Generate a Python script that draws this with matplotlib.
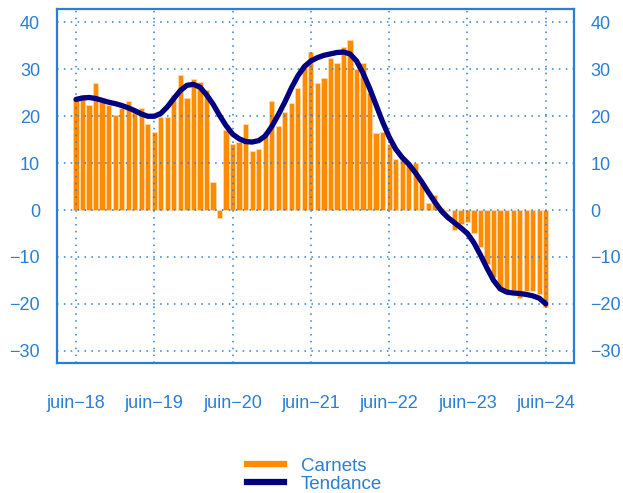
import numpy as np
import matplotlib.pyplot as plt
from matplotlib.lines import Line2D

plt.rcParams['font.family'] = ['Liberation Sans', 'DejaVu Sans']

# monthly values, juin-18 .. juin-24
carnets = [23.4, 24.5, 22.3, 27.0, 23.0, 22.3, 20.2, 21.8, 23.2, 21.4, 21.8, 18.3,
           16.6, 19.9, 19.9, 24.5, 28.9, 24.0, 27.9, 27.3, 25.5, 5.9, -1.8, 17.0,
           14.0, 14.5, 18.3, 12.6, 13.0, 16.6, 23.3, 18.0, 21.0, 22.8, 26.0, 31.0,
           33.8, 27.0, 28.1, 32.4, 31.4, 34.8, 36.2, 30.1, 31.4, 25.0, 16.5, 16.6,
           14.0, 10.8, 10.6, 9.5, 10.1, 5.5, 1.6, 3.2, 0.4, -0.3, -4.3, -3.0,
           -2.5, -4.8, -7.8, -11.5, -14.2, -16.9, -17.0, -17.0, -18.8, -17.2, -17.2, -18.0,
           -20.7]
tendance = [23.6, 23.9, 24.0, 23.8, 23.4, 23.0, 22.7, 22.3, 21.8, 21.2, 20.5, 20.0,
            20.0, 20.6, 22.0, 23.8, 25.5, 26.6, 26.8, 26.2, 24.6, 22.6, 20.2, 18.0,
            16.2, 15.2, 14.6, 14.5, 14.8, 15.8, 17.8, 20.3, 23.0, 26.0, 28.6, 30.6,
            31.8, 32.5, 33.0, 33.3, 33.6, 33.7, 33.3, 31.8, 29.2, 26.0, 22.4, 18.8,
            15.6, 13.0, 11.2, 9.8, 8.0, 6.0, 3.8, 1.7, -0.2, -1.6, -2.7, -3.8,
            -5.0, -7.0, -9.6, -12.4, -15.0, -16.8, -17.5, -17.7, -17.8, -18.0, -18.3, -18.8,
            -20.0]
xlabels = ['juin\u221218', 'juin\u221219', 'juin\u221220', 'juin\u221221',
           'juin\u221222', 'juin\u221223', 'juin\u221224']
yticks = [-30, -20, -10, 0, 10, 20, 30, 40]

blue = '#2a7fd4'
x = np.arange(len(carnets))

fig = plt.figure(figsize=(6.23, 4.93), dpi=100)
ax = fig.add_axes([0.091, 0.263, 0.830, 0.718])

ax.bar(x, carnets, width=0.8, color='#ff8c00', edgecolor='#ffd9a8', linewidth=0.6, zorder=2)
ax.plot(x, tendance, color='#000080', lw=3.8, solid_capstyle='round', zorder=4)

ax.set_xlim(-2.96, 76.3)
ax.set_ylim(-32.7, 42.8)

xt = np.arange(0, len(carnets), 12)
ax.set_xticks(xt)
ax.set_xticklabels(xlabels)
ax.set_yticks(yticks)
ax.set_yticklabels([str(v).replace('-', '\u2212') for v in yticks])

for v in xt:
    ax.axvline(v, color=blue, ls=(0, (1, 3.5)), lw=1.1, zorder=3)
for v in yticks:
    ax.axhline(v, color=blue, ls=(0, (1, 3.5)), lw=1.1, zorder=3)

for s in ax.spines.values():
    s.set_color(blue)
    s.set_linewidth(1.6)

ax.tick_params(axis='x', length=0, pad=23, labelsize=13, colors=blue)
ax.tick_params(axis='y', length=0, pad=12, labelsize=13, colors=blue,
               labelright=True, right=True)

handles = [Line2D([], [], color='#ff8c00', lw=4.5),
           Line2D([], [], color='#000080', lw=4.5)]
leg = fig.legend(handles, ['Carnets', 'Tendance'], loc='center',
                 bbox_to_anchor=(0.505, 0.036), frameon=False, fontsize=13.5,
                 handlelength=1.95, handletextpad=0.9, labelspacing=0.05)
for t in leg.get_texts():
    t.set_color(blue)

fig.savefig('out.png', dpi=100)
